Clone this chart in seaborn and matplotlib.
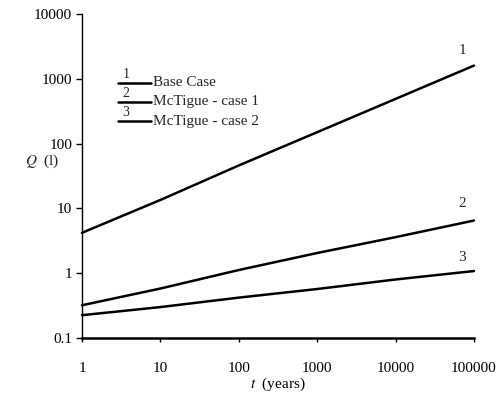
import matplotlib
matplotlib.use("Agg")
import matplotlib.pyplot as plt
from matplotlib.lines import Line2D
import seaborn as sns
import pandas as pd

t_years = [1, 10, 100, 1000, 10000, 100000]
q_base = [4.2, 13.5, 46, 150, 490, 1600]
q_mct1 = [0.32, 0.58, 1.12, 2.05, 3.6, 6.5]
q_mct2 = [0.225, 0.30, 0.42, 0.57, 0.80, 1.08]
series_names = ["Base Case", "McTigue - case 1", "McTigue - case 2"]
series_nums = ["1", "2", "3"]
y_ticks = [0.1, 1, 10, 100, 1000, 10000]
x_ticks = [1, 10, 100, 1000, 10000, 100000]

df = pd.DataFrame({
    "t": t_years * 3,
    "Q": q_base + q_mct1 + q_mct2,
    "case": sum([[n] * len(t_years) for n in series_names], []),
})

sns.set_style("white")
plt.rcParams["font.family"] = ["Liberation Serif", "DejaVu Serif"]
plt.rcParams["mathtext.fontset"] = "stix"

fig = plt.figure(figsize=(5.01, 4.01), dpi=100)
ax = fig.add_axes([82 / 501, (401 - 338) / 401, (474 - 82) / 501, (338 - 14) / 401])

sns.lineplot(data=df, x="t", y="Q", hue="case", units="case", estimator=None,
             palette=["black"] * 3, linewidth=1.8, legend=False, ax=ax,
             clip_on=False)
ax.set_xscale("log")
ax.set_yscale("log")
ax.set_xlim(1, 100000)
ax.set_ylim(0.1, 10000)
ax.set_xticks(x_ticks)
ax.set_xticklabels([f"{v:g}" if v < 1 else f"{int(v)}" for v in x_ticks])
ax.set_yticks(y_ticks)
ax.set_yticklabels([f"{v:g}" if v < 1 else f"{int(v)}" for v in y_ticks])
ax.minorticks_off()
ax.tick_params(axis="y", which="major", left=True, direction="out", length=4, width=1,
               labelsize=11, pad=3, color="black", labelcolor="black")
ax.tick_params(axis="x", which="major", bottom=True, direction="out", length=3, width=1,
               labelsize=11, pad=14, color="black", labelcolor="black")
for s in ["top", "right"]:
    ax.spines[s].set_visible(False)
ax.spines["left"].set_linewidth(1.0)
ax.spines["bottom"].set_linewidth(1.8)
ax.spines["left"].set_color("black")
ax.spines["bottom"].set_color("black")

ax.set_xlabel("$t$  (years)", fontsize=11, labelpad=0.5, color="black")
ax.set_ylabel("")
fig.text(42 / 501, 1 - 161 / 401, "$Q$  (l)", fontsize=11, ha="center", va="center")

# series numbers near ends
ends = [q_base[-1], q_mct1[-1], q_mct2[-1]]
offs = [11, 12, 9.5]
for num, yv, o in zip(series_nums, ends, offs):
    ax.annotate(num, xy=(t_years[-1], yv), xytext=(-8.6, o), textcoords="offset points",
                ha="center", va="center", fontsize=11)

# manual legend
ax_h = 338 - 14
ax_w = 474 - 82
leg_y = [83, 102, 121]
for name, num, yp in zip(series_names, series_nums, leg_y):
    fy = (338 - yp) / ax_h
    x0 = (118 - 82) / ax_w
    x1 = (151 - 82) / ax_w
    ax.add_line(Line2D([x0, x1], [fy, fy], transform=ax.transAxes, color="black", lw=1.8))
    ax.text((153 - 82) / ax_w, fy, name, transform=ax.transAxes, fontsize=11,
            ha="left", va="center")
    ax.text((126 - 82) / ax_w, fy + 2 / ax_h, num, transform=ax.transAxes, fontsize=10,
            ha="center", va="bottom")

fig.savefig("out.png", dpi=100)
